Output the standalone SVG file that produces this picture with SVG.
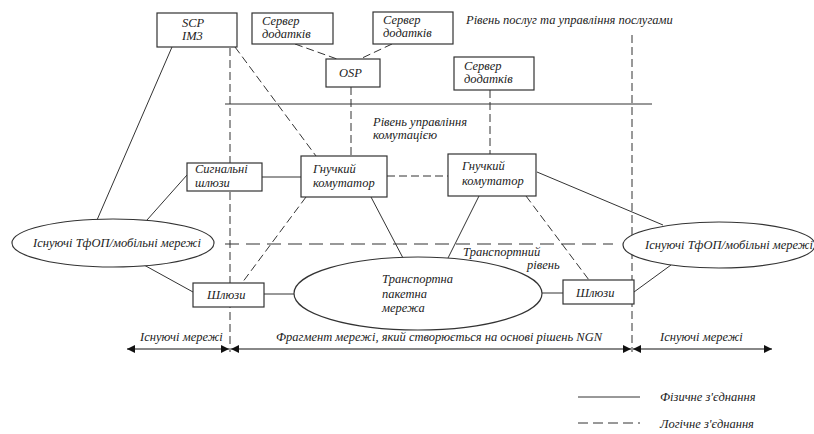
<svg xmlns="http://www.w3.org/2000/svg" width="814" height="434" viewBox="0 0 814 434" font-family="'Liberation Serif', 'Times New Roman', serif">
<defs>
<style>
text{font-family:'Liberation Serif','Times New Roman',serif;font-style:italic;font-size:12.5px;fill:#222}
.box{fill:#fff;stroke:#333;stroke-width:1.2}
.s{stroke:#333;stroke-width:1;fill:none}
.d{stroke:#333;stroke-width:1;fill:none;stroke-dasharray:8 4}
.dl{stroke:#333;stroke-width:1.2;fill:none;stroke-dasharray:14 7}
.ar{stroke:#888;stroke-width:2;fill:none}
</style>
<marker id="ah" viewBox="0 0 10 10" refX="10" refY="5" markerWidth="4" markerHeight="4" orient="auto-start-reverse" markerUnits="strokeWidth">
<path d="M0,0 L10,5 L0,10 z" fill="#111"/>
</marker>
</defs>
<rect width="814" height="434" fill="#fff"/>
<g id="connectors">
<line class="s" x1="225" y1="104" x2="652" y2="104"/>
<line class="d" x1="230" y1="48" x2="230" y2="352"/>
<line class="d" x1="632" y1="35" x2="632" y2="352"/>
<line class="dl" x1="225" y1="244" x2="613" y2="244"/>
<line class="d" x1="295" y1="44" x2="337" y2="59"/>
<line class="d" x1="392" y1="44" x2="360" y2="59"/>
<line class="d" x1="351" y1="87" x2="351" y2="156"/>
<line class="d" x1="490" y1="90" x2="490" y2="154"/>
<line class="s" x1="172" y1="47" x2="97" y2="220"/>
<line class="d" x1="235" y1="47" x2="316" y2="156"/>
<line class="s" x1="262" y1="177" x2="301" y2="177"/>
<line class="s" x1="147" y1="220" x2="187" y2="175"/>
<line class="s" x1="144" y1="265" x2="193" y2="292"/>
<line class="s" x1="264" y1="294" x2="294" y2="294"/>
<line class="d" x1="306" y1="197" x2="242" y2="283"/>
<line class="s" x1="371" y1="197" x2="403" y2="258"/>
<line class="d" x1="387" y1="176" x2="448" y2="176"/>
<line class="s" x1="479" y1="196" x2="448" y2="258"/>
<line class="d" x1="526" y1="196" x2="589" y2="280"/>
<line class="s" x1="537" y1="172" x2="663" y2="225"/>
<line class="s" x1="542" y1="293" x2="563" y2="293"/>
<line class="s" x1="634" y1="292" x2="671" y2="265"/>
</g>
<g id="scp"><rect class="box" x="157" y="13" width="80" height="34"/><text x="182" y="27">SCP</text><text x="182" y="40">IM3</text></g>
<g id="server1"><rect class="box" x="252" y="13" width="81" height="31"/><text x="262" y="25">Сервер</text><text x="262" y="38">додатків</text></g>
<g id="server2"><rect class="box" x="373" y="12" width="80" height="32"/><text x="383" y="24">Сервер</text><text x="383" y="37">додатків</text></g>
<g id="osp"><rect class="box" x="326" y="59" width="54" height="28"/><text x="339" y="77">OSP</text></g>
<g id="server3"><rect class="box" x="454" y="57" width="80" height="33"/><text x="464" y="70">Сервер</text><text x="464" y="83">додатків</text></g>
<g id="sg"><rect class="box" x="187" y="163" width="75" height="28"/><text x="195" y="173">Сигнальні</text><text x="195" y="187">шлюзи</text></g>
<g id="sw1"><rect class="box" x="301" y="156" width="86" height="41"/><text x="313" y="173">Гнучкий</text><text x="313" y="187">комутатор</text></g>
<g id="sw2"><rect class="box" x="448" y="154" width="88" height="42"/><text x="462" y="170">Гнучкий</text><text x="462" y="185">комутатор</text></g>
<g id="pstn-left"><ellipse class="box" cx="113" cy="243" rx="101" ry="24"/><text x="33" y="247">Існуючі ТфОП/мобільні мережі</text></g>
<g id="pstn-right"><ellipse class="box" cx="719" cy="245" rx="96" ry="23"/><text x="645" y="249">Існуючі ТфОП/мобільні мережі</text></g>
<g id="gw-left"><rect class="box" x="193" y="283" width="71" height="24"/><text x="207" y="299">Шлюзи</text></g>
<g id="gw-right"><rect class="box" x="563" y="280" width="71" height="24"/><text x="576" y="297">Шлюзи</text></g>
<g id="transport"><ellipse class="box" cx="418" cy="293.5" rx="124" ry="36.5"/><text x="382" y="283">Транспортна</text><text x="382" y="298">пакетна</text><text x="382" y="312">мережа</text></g>
<g id="labels">
<text x="466" y="24">Рівень послуг та управління послугами</text>
<text x="373" y="126">Рівень управління</text>
<text x="373" y="139">комутацією</text>
<text x="463" y="256">Транспортний</text>
<text x="527" y="269">рівень</text>
<text x="140" y="341">Існуючі мережі</text>
<text x="276" y="341">Фрагмент мережі, який створюється на основі рішень NGN</text>
<text x="660" y="341">Існуючі мережі</text>
</g>
<g id="arrows">
<line class="ar" x1="127" y1="349" x2="229" y2="349" marker-start="url(#ah)" marker-end="url(#ah)"/>
<line class="ar" x1="231" y1="349" x2="631" y2="349" marker-start="url(#ah)" marker-end="url(#ah)"/>
<line class="ar" x1="633" y1="349" x2="772" y2="349" marker-start="url(#ah)" marker-end="url(#ah)"/>
</g>
<g id="legend">
<line class="s" x1="578" y1="397" x2="640" y2="397"/>
<text x="660" y="401">Фізичне з'єднання</text>
<line class="d" x1="578" y1="423" x2="640" y2="423" style="stroke-dasharray:10 5"/>
<text x="660" y="428">Логічне з'єднання</text>
</g>
</svg>
